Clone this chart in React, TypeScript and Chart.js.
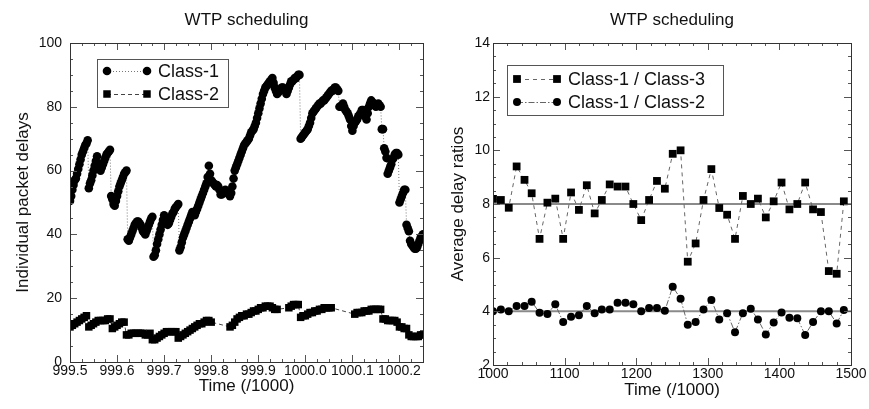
import React, { useEffect, useRef } from "react";
import { Chart, registerables } from "chart.js";

Chart.register(...registerables);

const FONT = "'Liberation Sans', Arial, Helvetica, sans-serif";

// ---------------- Left panel data ----------------
const leftTitle = "WTP scheduling";
const leftXTitle = "Time (/1000)";
const leftYTitle = "Individual packet delays";
const leftXStart = 999.5;
const class1Step = 0.0025;
const class2Step = 0.005;
const class1Label = "Class-1";
const class2Label = "Class-2";
const class1Delays: number[] = [
  50.5, 52, 54, 55.5, 57, 57.5, 59, 60.5, 62, 63.5, 65, 66, 67, 68, 68.5, 69.5, 54.5, 56, 57, 58.5,
  60, 61.5, 63, 64.5, 62, 60.5, 60, 61, 62, 63, 64, 65, 65.5, 66, 66.5, 52, 51, 49.5, 49, 50.5,
  52, 53.5, 55, 56, 57, 58, 59, 59.5, 60, 38.5, 38, 39, 40, 41, 42, 43, 43.5, 44, 44, 43.5,
  43, 42, 41, 40.5, 40, 41, 42, 43, 44, 45, 45.5, 33, 33.5, 35, 37, 38.5, 40, 41.5, 43, 44.5,
  46, 45, 44, 43, 43.5, 44.5, 45.5, 46.5, 47, 48, 48.5, 49, 49.5, 35, 36, 37.5, 39, 40, 41, 42,
  43, 44, 45, 46, 47, 46.5, 46, 47, 48, 49, 50, 51, 52, 53, 54, 55, 56, 58, 61.5, 59,
  57, 56.5, 56, 55.5, 55, 55.5, 55, 54, 52.5, 52.5, 53, 53.5, 54, 53.5, 53, 52.5, 52, 53, 55, 57.5,
  60, 61, 62, 63, 64, 65, 66, 67, 68, 68.5, 69, 69.5, 70, 71, 72, 72.5, 73, 74, 75, 76.5,
  78, 79.5, 81, 82.5, 84, 85, 86, 86.5, 87, 87.5, 88, 88.5, 89, 87.5, 86, 85, 84, 84.5, 85, 85.5,
  86, 86, 85.5, 85, 84, 85, 86, 87, 88, 88, 88.5, 89, 89, 89.5, 90, 90, 70, 70.5, 71, 71.5,
  72, 72.5, 73, 74, 75, 76.5, 78, 78.5, 79, 79.5, 80, 80.5, 81, 81, 81.5, 82, 82, 82.5, 83, 83.5,
  84, 84.5, 85, 85, 85.5, 86, 86, 85.5, 85, 80, 80, 80.5, 81, 80, 79, 78.5, 78, 77, 76, 74,
  72.5, 74, 75, 75.5, 76, 77, 77.5, 78, 79, 79, 78, 77, 76, 78, 80, 81, 82, 81.5, 81, 80.5,
  80, 80.5, 81, 80.5, 80, 73, 73, 67, 66, 64, 59, 60, 61, 62, 63.5, 64, 65, 65.5, 65.5, 65,
  50, 51, 52, 53, 54, 54, 43, 42, 41, 38, 37, 36.5, 36, 35.5, 35.5, 36, 37, 38, 39, 39.5,
  40,
];
const class2Delays: (number | null)[] = [
  11, 11.5, 12, 12.5, 13, 13.5, 14, 14.5, 11, 11.5,
  12, 12.5, 13, 13, 13, 13, 13.5, 13.5, 10.5, 11,
  11.5, 12, 12.5, 12.5, 8.5, 8.5, 9, 9, 9, 9,
  9, 9, 8.5, 8.5, 9, 7, 7, 7.5, 8, 8.5,
  9, 9.5, 9.5, 9.5, 9.5, 9.5, 7.5, 8, 8.5, 9,
  9.5, 10, 10.5, 11, 11.5, 12, 12, 12.5, 13, 13,
  12.5, null, null, null, null, null, null, null, 11, 11.5,
  12.5, 13.5, 14, 14.5, 14.5, 15, 15, 15.5, 16, 16,
  16.5, 17, 17, 17.5, 17.5, 17.5, 17, 16.5, 16.5, null,
  null, null, null, 17, 17.5, 18, 18, 18, 14, 14.5,
  14.5, 15, 15.5, 15.5, 16, 16, 16.5, 16.5, 17, 17,
  17, 17, null, null, null, null, null, null, null, null,
  null, 15, 15.5, 15.5, 15.5, 16, 16, 16, 16.5, 16.5,
  16.5, 16.5, 16.5, 13.5, 13.5, 13, 13, 13, 13, 12.5,
  11, 11, 10.5, 10.5, 8.5, 8, 8, 8, 8, 8.5,
  8.5,
];
const leftXTicks = [999.5, 999.6, 999.7, 999.8, 999.9, 1000.0, 1000.1, 1000.2];
const leftYTicks = [0, 20, 40, 60, 80, 100];

// ---------------- Right panel data ----------------
const rightTitle = "WTP scheduling";
const rightXTitle = "Time (/1000)";
const rightYTitle = "Average delay ratios";
const ratio13Label = "Class-1 / Class-3";
const ratio12Label = "Class-1 / Class-2";
const rightTimes = [
  1000, 1011, 1022, 1033, 1044, 1054, 1065, 1076, 1087, 1098,
  1109, 1120, 1131, 1142, 1152, 1163, 1174, 1185, 1196, 1207,
  1218, 1229, 1240, 1251, 1262, 1272, 1283, 1294, 1305, 1316,
  1327, 1338, 1349, 1360, 1370, 1381, 1392, 1403, 1414, 1425,
  1436, 1447, 1458, 1469, 1480, 1490,
];
const ratio13 = [
  8.19, 8.15, 7.86, 9.4, 8.9, 8.4, 6.7, 8.05, 8.2, 6.7,
  8.43, 7.78, 8.7, 7.65, 8.15, 8.73, 8.65, 8.65, 8.0, 7.4,
  8.15, 8.86, 8.57, 9.87, 10.0, 5.85, 6.53, 8.15, 9.3, 7.85,
  7.6, 6.7, 8.3, 8.0, 8.2, 7.5, 8.1, 8.8, 7.8, 8.0,
  8.8, 7.8, 7.7, 5.5, 5.4, 8.1,
];
const ratio12 = [
  4.0, 4.07, 4.0, 4.2, 4.2, 4.36, 3.95, 3.9, 4.26, 3.6,
  3.8, 3.85, 4.2, 3.93, 4.07, 4.07, 4.32, 4.32, 4.26, 4.0,
  4.12, 4.12, 4.02, 4.92, 4.47, 3.5, 3.6, 4.07, 4.42, 3.7,
  3.93, 3.22, 3.93, 4.1, 3.7, 3.14, 3.58, 3.96, 3.76, 3.74,
  3.12, 3.6, 4.0, 4.0, 3.55, 4.05,
];
const target13 = 8;
const target12 = 4;
const rightXRange = [1000, 1500];
const rightXTicks = [1000, 1100, 1200, 1300, 1400, 1500];
const rightYTicks = [2, 4, 6, 8, 10, 12, 14];

const class1Times = class1Delays.map((_, i) => +(leftXStart + i * class1Step).toFixed(4));
const class2Times = class2Delays.map((_, i) => +(leftXStart + i * class2Step).toFixed(4));

type Marker = "circle" | "rect";
interface LegendEntry {
  label: string;
  marker: Marker;
  size: number;
  dash: number[];
  color: string;
}
interface Deco {
  id: string;
  title: string;
  xMinor: number;
  yMinor: number;
  xMajor: number[];
  yMajor: number[];
  box: { dx: number; dy: number; w: number; h: number };
  rows: number[];
  m1: number;
  m2: number;
  tx: number;
  entries: LegendEntry[];
}

function drawMarker(ctx: CanvasRenderingContext2D, m: Marker, x: number, y: number, size: number) {
  ctx.fillStyle = "#000";
  if (m === "circle") {
    ctx.beginPath();
    ctx.arc(x, y, size, 0, Math.PI * 2);
    ctx.fill();
  } else {
    const s = size * Math.SQRT1_2;
    ctx.fillRect(x - s, y - s, 2 * s, 2 * s);
  }
}

function makeDeco(cfg: Deco) {
  return {
    id: "deco-" + cfg.id,
    afterDatasetsDraw(chart: any) {
      const { ctx, chartArea: a, scales } = chart;
      const xs = scales.x;
      const ys = scales.y;
      ctx.save();
      ctx.strokeStyle = "#555";
      ctx.lineWidth = 1;
      ctx.beginPath();
      for (let k = 0; ; k++) {
        const v = xs.min + k * cfg.xMinor;
        if (v > xs.max + 1e-9) break;
        const p = Math.round(xs.getPixelForValue(v)) + 0.5;
        ctx.moveTo(p, a.bottom);
        ctx.lineTo(p, a.bottom - 3);
        ctx.moveTo(p, a.top);
        ctx.lineTo(p, a.top + 3);
      }
      for (let k = 0; ; k++) {
        const v = ys.min + k * cfg.yMinor;
        if (v > ys.max + 1e-9) break;
        const p = Math.round(ys.getPixelForValue(v)) + 0.5;
        ctx.moveTo(a.left, p);
        ctx.lineTo(a.left + 3, p);
        ctx.moveTo(a.right, p);
        ctx.lineTo(a.right - 3, p);
      }
      for (const v of cfg.xMajor) {
        const p = Math.round(xs.getPixelForValue(v)) + 0.5;
        ctx.moveTo(p, a.bottom);
        ctx.lineTo(p, a.bottom - 7);
        ctx.moveTo(p, a.top);
        ctx.lineTo(p, a.top + 7);
      }
      for (const v of cfg.yMajor) {
        const p = Math.round(ys.getPixelForValue(v)) + 0.5;
        ctx.moveTo(a.left, p);
        ctx.lineTo(a.left + 7, p);
        ctx.moveTo(a.right, p);
        ctx.lineTo(a.right - 7, p);
      }
      ctx.stroke();
      ctx.strokeStyle = "#333";
      ctx.strokeRect(
        Math.round(a.left) + 0.5,
        Math.round(a.top) + 0.5,
        Math.round(a.right - a.left),
        Math.round(a.bottom - a.top)
      );
      ctx.restore();
    },
    afterDraw(chart: any) {
      const { ctx, chartArea: a } = chart;
      ctx.save();
      ctx.fillStyle = "#111";
      ctx.font = `17px ${FONT}`;
      ctx.textAlign = "center";
      ctx.textBaseline = "middle";
      ctx.fillText(cfg.title, (a.left + a.right) / 2, 20);
      const bx = a.left + cfg.box.dx;
      const by = a.top + cfg.box.dy;
      ctx.fillStyle = "#fff";
      ctx.fillRect(bx, by, cfg.box.w, cfg.box.h);
      ctx.strokeStyle = "#555";
      ctx.lineWidth = 1;
      ctx.strokeRect(Math.round(bx) + 0.5, Math.round(by) + 0.5, cfg.box.w, cfg.box.h);
      cfg.entries.forEach((e, i) => {
        const y = by + cfg.rows[i];
        ctx.save();
        ctx.strokeStyle = e.color;
        ctx.lineWidth = 1;
        ctx.setLineDash(e.dash);
        ctx.beginPath();
        ctx.moveTo(bx + cfg.m1, y + 0.5);
        ctx.lineTo(bx + cfg.m2, y + 0.5);
        ctx.stroke();
        ctx.restore();
        drawMarker(ctx, e.marker, bx + cfg.m1, y, e.size);
        drawMarker(ctx, e.marker, bx + cfg.m2, y, e.size);
        ctx.fillStyle = "#111";
        ctx.font = `18px ${FONT}`;
        ctx.textAlign = "left";
        ctx.textBaseline = "middle";
        ctx.fillText(e.label, bx + cfg.tx, y + 1);
      });
      ctx.restore();
    },
  };
}

function axisTitle(text: string, pad: any) {
  return { display: true, text, color: "#111", font: { family: FONT, size: 17 }, padding: pad };
}

function LeftPanel() {
  const ref = useRef<HTMLCanvasElement>(null);
  useEffect(() => {
    const c1Dash = [1, 2];
    const c2Dash = [4, 3];
    const chart = new Chart(ref.current!, {
      type: "line",
      data: {
        datasets: [
          {
            label: class1Label,
            data: class1Times.map((t, i) => ({ x: t, y: class1Delays[i] })),
            borderColor: "#777",
            borderWidth: 1,
            borderDash: c1Dash,
            pointStyle: "circle",
            pointRadius: 4.3,
            pointBorderWidth: 0,
            pointBackgroundColor: "#000",
            tension: 0,
          },
          {
            label: class2Label,
            data: class2Times.map((t, i) => ({ x: t, y: class2Delays[i] })),
            borderColor: "#444",
            borderWidth: 1,
            borderDash: c2Dash,
            pointStyle: "rect",
            pointRadius: 5.3,
            pointBorderWidth: 0,
            pointBackgroundColor: "#000",
            spanGaps: true,
            tension: 0,
          },
        ],
      },
      options: {
        animation: false,
        responsive: false,
        events: [],
        layout: { padding: { left: 0, top: 43, right: 17, bottom: 0 } },
        plugins: { legend: { display: false }, title: { display: false }, tooltip: { enabled: false } },
        scales: {
          x: {
            type: "linear",
            min: 999.5,
            max: 1000.25,
            grid: { display: false, drawTicks: false },
            border: { display: false },
            afterBuildTicks: (s: any) => {
              s.ticks = leftXTicks.map((v) => ({ value: v }));
            },
            afterFit: (s: any) => {
              s.height = 47;
            },
            ticks: {
              autoSkip: false,
              maxRotation: 0,
              padding: 1,
              color: "#111",
              font: { family: FONT, size: 14 },
              callback: (v: any) => Number(v).toFixed(1),
            },
            title: axisTitle(leftXTitle, { top: 0, bottom: 12 }),
          },
          y: {
            type: "linear",
            min: 0,
            max: 100,
            grid: { display: false, drawTicks: false },
            border: { display: false },
            afterBuildTicks: (s: any) => {
              s.ticks = leftYTicks.map((v) => ({ value: v }));
            },
            afterFit: (s: any) => {
              s.width = 70;
            },
            ticks: { padding: 8, color: "#111", font: { family: FONT, size: 14 }, callback: (v: any) => String(v) },
            title: axisTitle(leftYTitle, { top: 13, bottom: 0 }),
          },
        },
      },
      plugins: [
        makeDeco({
          id: "left",
          title: leftTitle,
          xMinor: 0.025,
          yMinor: 5,
          xMajor: leftXTicks,
          yMajor: leftYTicks,
          box: { dx: 27, dy: 16, w: 131, h: 48 },
          rows: [12, 35],
          m1: 10,
          m2: 50,
          tx: 61,
          entries: [
            { label: class1Label, marker: "circle", size: 4.3, dash: c1Dash, color: "#777" },
            { label: class2Label, marker: "rect", size: 5.3, dash: c2Dash, color: "#444" },
          ],
        }),
      ],
    } as any);
    return () => chart.destroy();
  }, []);
  return (
    <canvas ref={ref} width={440} height={409} style={{ position: "absolute", left: 0, top: 0, width: 440, height: 409 }} />
  );
}

function RightPanel() {
  const ref = useRef<HTMLCanvasElement>(null);
  useEffect(() => {
    const d13 = [4, 4];
    const d12 = [6, 2, 1.5, 2];
    const chart = new Chart(ref.current!, {
      type: "line",
      data: {
        datasets: [
          {
            label: ratio13Label,
            data: rightTimes.map((t, i) => ({ x: t, y: ratio13[i] })),
            borderColor: "#666",
            borderWidth: 1,
            borderDash: d13,
            pointStyle: "rect",
            pointRadius: 5.5,
            pointBorderWidth: 0,
            pointBackgroundColor: "#000",
            tension: 0,
          },
          {
            label: ratio12Label,
            data: rightTimes.map((t, i) => ({ x: t, y: ratio12[i] })),
            borderColor: "#666",
            borderWidth: 1,
            borderDash: d12,
            pointStyle: "circle",
            pointRadius: 4,
            pointBorderWidth: 0,
            pointBackgroundColor: "#000",
            tension: 0,
          },
          {
            label: "target13",
            data: rightXRange.map((x) => ({ x, y: target13 })),
            borderColor: "#8a8a8a",
            borderWidth: 2,
            pointRadius: 0,
          },
          {
            label: "target12",
            data: rightXRange.map((x) => ({ x, y: target12 })),
            borderColor: "#8a8a8a",
            borderWidth: 2,
            pointRadius: 0,
          },
        ],
      },
      options: {
        animation: false,
        responsive: false,
        events: [],
        layout: { padding: { left: 0, top: 43, right: 18, bottom: 0 } },
        plugins: { legend: { display: false }, title: { display: false }, tooltip: { enabled: false } },
        scales: {
          x: {
            type: "linear",
            min: 1000,
            max: 1500,
            grid: { display: false, drawTicks: false },
            border: { display: false },
            afterBuildTicks: (s: any) => {
              s.ticks = rightXTicks.map((v) => ({ value: v }));
            },
            afterFit: (s: any) => {
              s.height = 44;
            },
            ticks: {
              autoSkip: false,
              maxRotation: 0,
              padding: 1,
              color: "#111",
              font: { family: FONT, size: 14 },
              callback: (v: any) => String(v),
            },
            title: axisTitle(rightXTitle, { top: 0, bottom: 8 }),
          },
          y: {
            type: "linear",
            min: 2,
            max: 14,
            grid: { display: false, drawTicks: false },
            border: { display: false },
            afterBuildTicks: (s: any) => {
              s.ticks = rightYTicks.map((v) => ({ value: v }));
            },
            afterFit: (s: any) => {
              s.width = 53;
            },
            ticks: { padding: 3, color: "#111", font: { family: FONT, size: 14 }, callback: (v: any) => String(v) },
            title: axisTitle(rightYTitle, { top: 8, bottom: 0 }),
          },
        },
      },
      plugins: [
        makeDeco({
          id: "right",
          title: rightTitle,
          xMinor: 20,
          yMinor: 0.5,
          xMajor: rightXTicks,
          yMajor: rightYTicks,
          box: { dx: 14, dy: 22, w: 216, h: 50 },
          rows: [14, 37],
          m1: 10,
          m2: 50,
          tx: 61,
          entries: [
            { label: ratio13Label, marker: "rect", size: 5.5, dash: d13, color: "#666" },
            { label: ratio12Label, marker: "circle", size: 4, dash: d12, color: "#666" },
          ],
        }),
      ],
    } as any);
    return () => chart.destroy();
  }, []);
  return (
    <canvas ref={ref} width={429} height={409} style={{ position: "absolute", left: 440, top: 0, width: 429, height: 409 }} />
  );
}

export default function App() {
  return (
    <div style={{ position: "fixed", left: 0, top: 0, width: 869, height: 409, background: "#fff", overflow: "hidden" }}>
      <LeftPanel />
      <RightPanel />
    </div>
  );
}
